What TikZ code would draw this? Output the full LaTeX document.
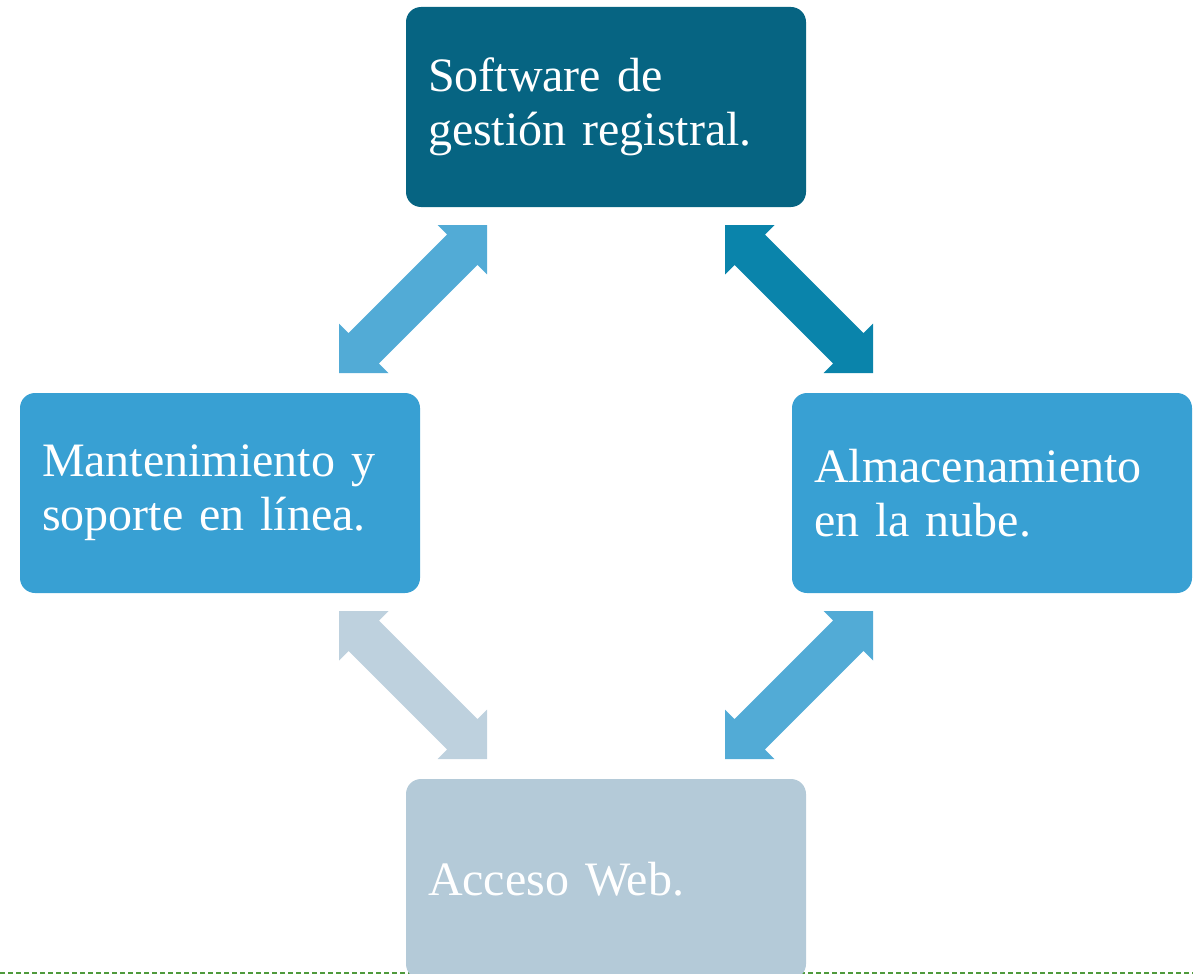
\documentclass[tikz,border=0pt]{standalone}
\usepackage{fontspec}
\setmainfont{Liberation Serif}
\usetikzlibrary{calc}

\definecolor{darkteal}{HTML}{066482}
\definecolor{midblue}{HTML}{38A0D3}
\definecolor{paleblue}{HTML}{B4CAD8}
\definecolor{lightarrow}{HTML}{52ABD6}
\definecolor{tealarrow}{HTML}{0A84AB}
\definecolor{palearrow}{HTML}{BED1DE}
\definecolor{dashgreen}{HTML}{4F9A3C}

\tikzset{every picture/.style={line width=0.75pt},
	stepbox/.style={rectangle, rounded corners=11.25pt, outer sep=0pt,
		minimum width=300pt, minimum height=150pt, text width=267pt,
		inner xsep=16.5pt, align=left, text=white,
		font=\fontsize{36}{40.5}\selectfont}}

% block arrow with a head at both ends: colour, from, to
\newcommand{\dblarrow}[3]{%
	\fill [#1] (#2)
		-- ($(#2)!26.25pt!(#3)!26.25pt!90:(#3)$)
		-- ($(#2)!26.25pt!(#3)!16.1pt!90:(#3)$)
		-- ($(#3)!26.25pt!(#2)!16.1pt!-90:(#2)$)
		-- ($(#3)!26.25pt!(#2)!26.25pt!-90:(#2)$)
		-- (#3)
		-- ($(#3)!26.25pt!(#2)!26.25pt!90:(#2)$)
		-- ($(#3)!26.25pt!(#2)!16.1pt!90:(#2)$)
		-- ($(#2)!26.25pt!(#3)!16.1pt!-90:(#3)$)
		-- ($(#2)!26.25pt!(#3)!26.25pt!-90:(#3)$)
		-- cycle;}

\begin{document}
\begin{tikzpicture}[x=0.75pt,y=0.75pt,yscale=-1,xscale=1]
	\useasboundingbox (0,0) rectangle (1193,974);

	%Straight Lines [dashed base line]
	\draw [dashgreen, line width=1pt, dash pattern={on 3.4pt off 2.6pt}] (0,973) -- (1193,973);

	% Text Node
	\node [stepbox, fill=darkteal] (soft) at (606,107) {Software de\\gestión registral.};
	% Text Node
	\node [stepbox, fill=midblue] (mant) at (220,493) {Mantenimiento y\\soporte en línea.};
	% Text Node
	\node [stepbox, fill=midblue] (alma) at (992,493) {Almacenamiento\\en la nube.};
	% Text Node
	\node [stepbox, fill=paleblue] (acce) at (606,879) {Acceso Web.};

	%Arrow ends
	\coordinate (mantup) at (339,373);
	\coordinate (softleft) at (487,225);
	\coordinate (softright) at (725,225);
	\coordinate (almaup) at (873,373);
	\coordinate (mantdown) at (339,611);
	\coordinate (acceleft) at (487,759);
	\coordinate (almadown) at (873,611);
	\coordinate (acceright) at (725,759);

	%Block Arrows
	\dblarrow{lightarrow}{mantup}{softleft}
	\dblarrow{tealarrow}{softright}{almaup}
	\dblarrow{palearrow}{mantdown}{acceleft}
	\dblarrow{lightarrow}{almadown}{acceright}

\end{tikzpicture}
\end{document}
